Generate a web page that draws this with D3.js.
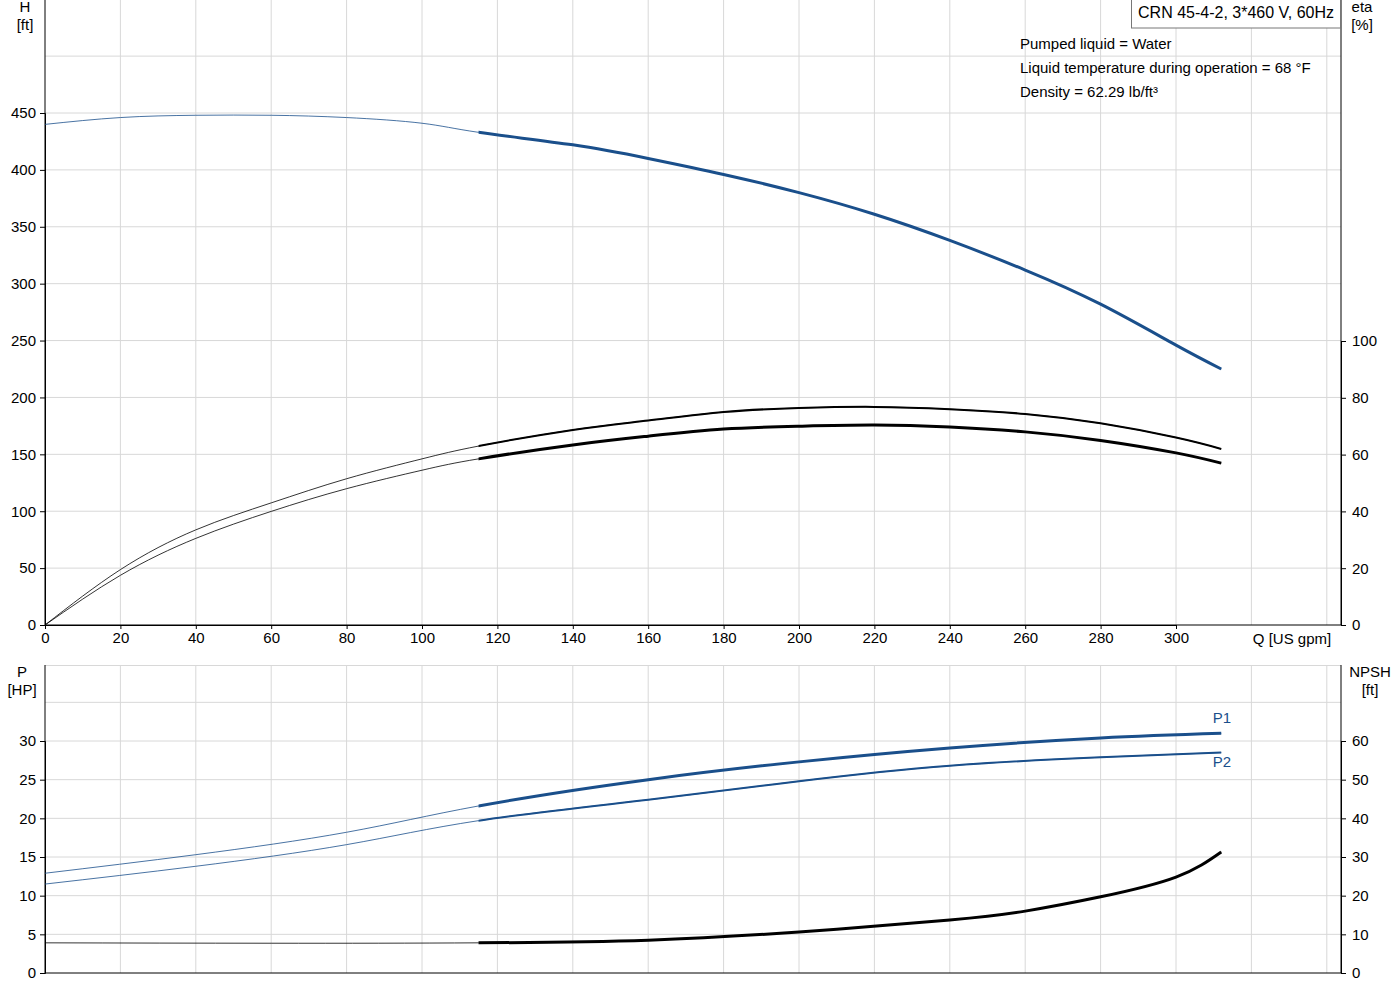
<!DOCTYPE html>
<html><head><meta charset="utf-8">
<script src="https://cdn.jsdelivr.net/npm/d3@7"></script>
<style>body{margin:0;background:#fff}text{font-family:Arial,"Liberation Sans",sans-serif}</style>
</head><body><svg id="c" width="1400" height="1000"></svg>
<script>
const xTicks = [0,20,40,60,80,100,120,140,160,180,200,220,240,260,280,300];
const hTicks = [0,50,100,150,200,250,300,350,400,450];
const etaTicks = [0,20,40,60,80,100];
const pTicks = [0,5,10,15,20,25,30];
const npshTicks = [0,10,20,30,40,50,60];

// duty range starts at 115 US gpm (thick part)
const dutyStart = 115;
const hData = [[0,440],[20,446],[40,448],[60,448],[80,446],[100,441],[115,433],[140,422],[160,410],[180,396],[200,380],[220,361],[240,338],[260,312],[280,282],[300,246],[312,225]];
const etaA = [[0,0],[20,19.5],[40,33.5],[60,43],[80,51.5],[100,58.5],[115,63],[140,68.7],[160,72],[180,75],[200,76.4],[220,76.8],[240,76],[260,74.3],[280,71],[300,66],[312,62]];
const etaB = [[0,0],[20,17.5],[40,30.5],[60,40],[80,48],[100,54.5],[115,58.5],[140,63.4],[160,66.5],[180,69],[200,70],[220,70.4],[240,69.7],[260,68],[280,65],[300,60.6],[312,57]];
const p1 = [[0,12.9],[40,15.3],[80,18.2],[115,21.6],[160,25],[200,27.3],[240,29.1],[280,30.4],[312,31]];
const p2 = [[0,11.5],[40,13.8],[80,16.6],[115,19.7],[160,22.4],[200,24.8],[240,26.8],[280,27.9],[312,28.5]];
const npsh = [[0,7.8],[60,7.7],[115,7.8],[160,8.5],[200,10.6],[240,13.7],[260,16],[280,19.7],[300,24.8],[312,31.3]];

const svg = d3.select('#c');
const blue = '#1a4f8b';
const x = d3.scaleLinear().domain([0,300]).range([45,1176]);
const xMax = x.invert(1341);
const yH = d3.scaleLinear().domain([0,450]).range([625,113]);
const yEta = d3.scaleLinear().domain([0,100]).range([625,341]);
const yP = d3.scaleLinear().domain([0,30]).range([973,741]);
const yN = d3.scaleLinear().domain([0,60]).range([973,741]);

svg.append('clipPath').attr('id','duty').append('rect')
  .attr('x', x(dutyStart)).attr('y', 0).attr('width', 1400).attr('height', 1000);

function grid(y0, y1, ys) {
  const g = svg.append('g').attr('stroke','#d8d8d8').attr('stroke-width',1);
  d3.range(20, xMax, 20).forEach(v => g.append('line').attr('x1',x(v)).attr('x2',x(v)).attr('y1',y0).attr('y2',y1));
  ys.forEach(v => g.append('line').attr('x1',45).attr('x2',1341).attr('y1',v).attr('y2',v));
}
grid(0, 625, [...hTicks.slice(1), 500].map(yH));
grid(665, 973, [...pTicks.slice(1), 35].map(yP));
svg.append('line').attr('x1',45).attr('x2',1341).attr('y1',665.5).attr('y2',665.5).attr('stroke','#d8d8d8');

function axis(gen, tx, ty) {
  const g = svg.append('g').attr('transform',`translate(${tx},${ty})`).call(gen);
  g.selectAll('text').style('font-size','15px').attr('fill','#000');
  g.selectAll('.domain,.tick line').attr('stroke','#000');
  return g;
}
axis(d3.axisLeft(yH).tickValues(hTicks).tickSize(5).tickPadding(4), 45, 0);
axis(d3.axisRight(yEta).tickValues(etaTicks).tickSize(5).tickPadding(6), 1341, 0);
axis(d3.axisBottom(x).tickValues(xTicks).tickSize(4).tickPadding(3), 0, 625);
axis(d3.axisLeft(yP).tickValues(pTicks).tickSize(5).tickPadding(4), 45, 0);
axis(d3.axisRight(yN).tickValues(npshTicks).tickSize(5).tickPadding(6), 1341, 0);
[[45,0,625],[1341,0,625],[45,665,973],[1341,665,973]].forEach(([xx,a,b]) =>
  svg.append('line').attr('x1',xx).attr('x2',xx).attr('y1',a).attr('y2',b).attr('stroke','#000'));
svg.append('line').attr('x1',45).attr('x2',1341).attr('y1',625).attr('y2',625).attr('stroke','#000');
svg.append('line').attr('x1',45).attr('x2',1341).attr('y1',973).attr('y2',973).attr('stroke','#000');

// thin line over the whole range, thick over the duty range
function curve(data, yS, color, w) {
  const d = d3.line().x(p => x(p[0])).y(p => yS(p[1])).curve(d3.curveNatural)(data);
  svg.append('path').attr('d', d).attr('fill','none').attr('stroke',color).attr('stroke-width',0.8);
  svg.append('path').attr('d', d).attr('fill','none').attr('stroke',color).attr('stroke-width',w)
    .attr('clip-path','url(#duty)');
}
curve(hData, yH, blue, 3);
curve(etaA, yEta, '#000', 2);
curve(etaB, yEta, '#000', 3);
curve(p1, yP, blue, 3);
curve(p2, yP, blue, 2);
curve(npsh, yN, '#000', 3);

function txt(s, tx, ty, anchor='start', color='#000', size=15) {
  svg.append('text').attr('x',tx).attr('y',ty).attr('text-anchor',anchor).attr('fill',color).style('font-size',size+'px').text(s);
}
txt('H', 25, 12, 'middle'); txt('[ft]', 25, 30, 'middle');
txt('eta', 1362, 12, 'middle'); txt('[%]', 1362, 30, 'middle');
txt('P', 22, 677, 'middle'); txt('[HP]', 22, 695, 'middle');
txt('NPSH', 1370, 677, 'middle'); txt('[ft]', 1370, 695, 'middle');
txt('Q [US gpm]', 1292, 644, 'middle');
svg.append('rect').attr('x',1131.5).attr('y',-1).attr('width',209).attr('height',29).attr('fill','#fff').attr('stroke','#777');
txt('CRN 45-4-2, 3*460 V, 60Hz', 1236, 18, 'middle', '#000', 16);
txt('Pumped liquid = Water', 1020, 49);
txt('Liquid temperature during operation = 68 °F', 1020, 73);
txt('Density = 62.29 lb/ft³', 1020, 97);
txt('P1', 1222, 723, 'middle', blue);
txt('P2', 1222, 767, 'middle', blue);
</script></body></html>
